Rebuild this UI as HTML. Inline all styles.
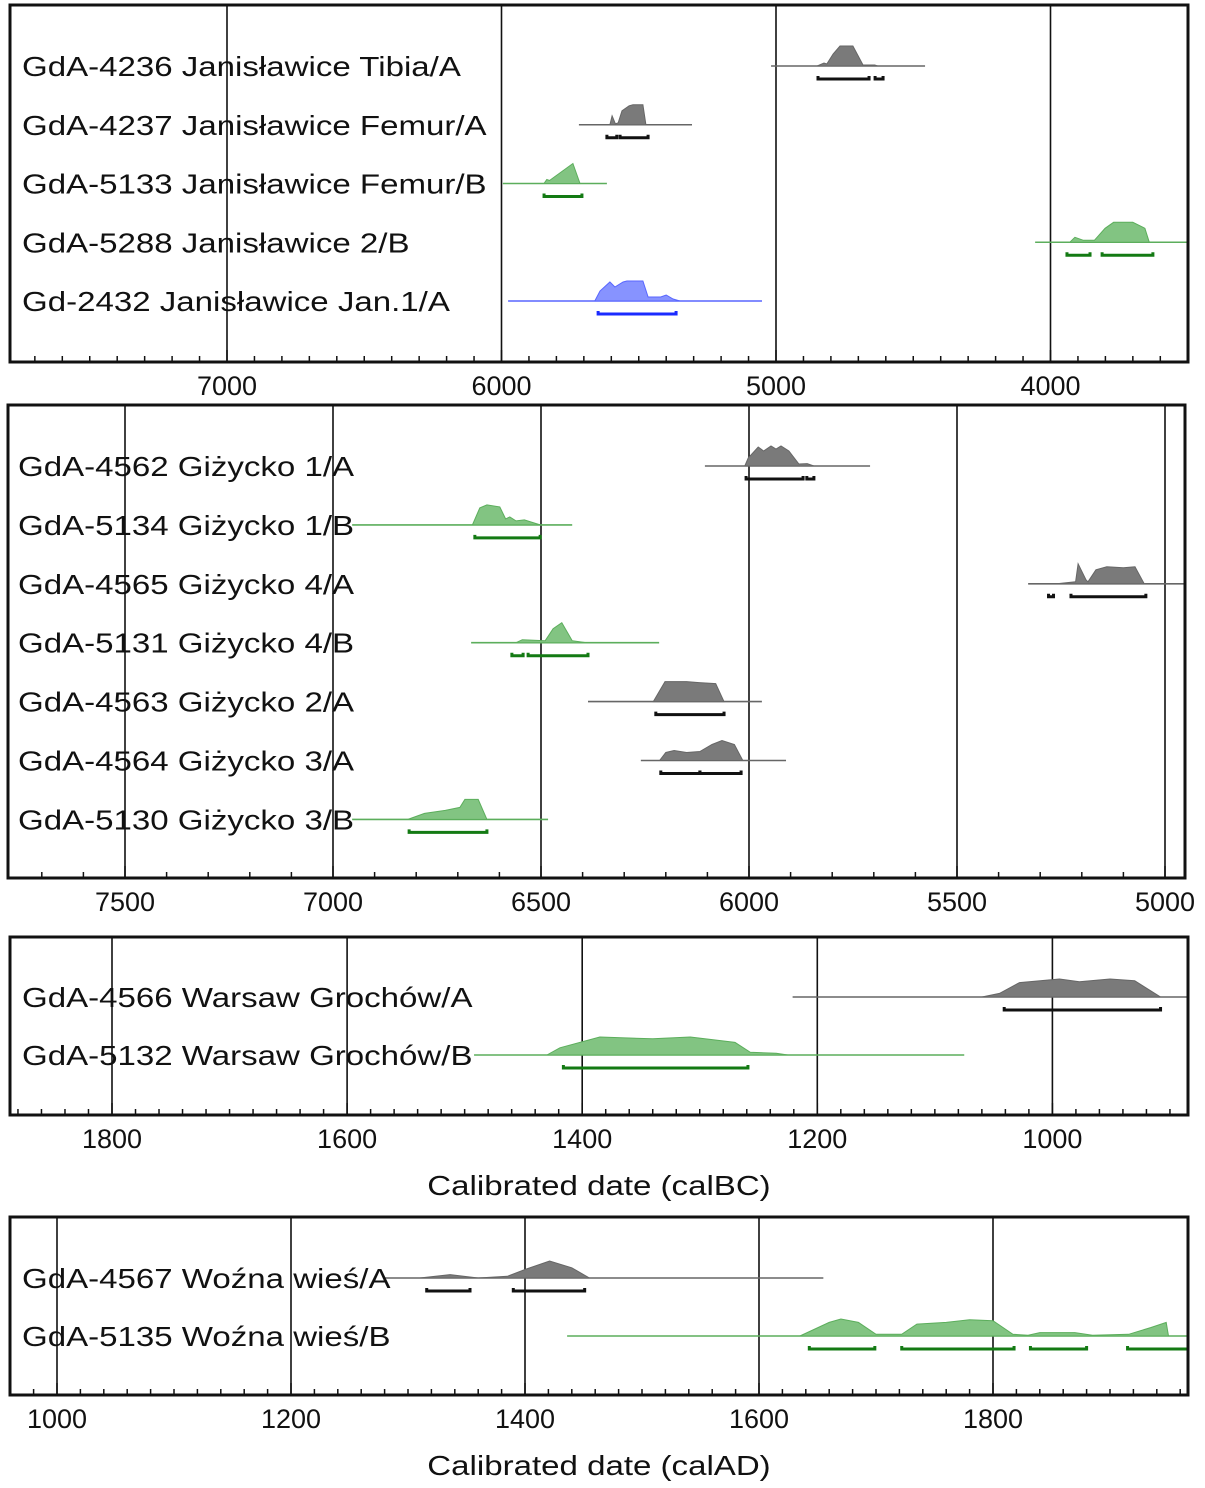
<!DOCTYPE html>
<html><head><meta charset="utf-8">
<style>
html,body{margin:0;padding:0;background:#fff;}
svg{display:block;font-family:"Liberation Sans",sans-serif;}
</style></head>
<body>
<svg id="chart" width="1205" height="1488" viewBox="0 0 1205 1488" xmlns="http://www.w3.org/2000/svg"></svg>
<script>
// ---- data ----
const p1Labels = ["GdA-4236 Janisławice Tibia/A","GdA-4237 Janisławice Femur/A","GdA-5133 Janisławice Femur/B","GdA-5288 Janisławice 2/B","Gd-2432 Janisławice Jan.1/A"];
const p1Colors = ["gray","gray","green","green","blue"];
const p1Lines = [[5018,4457],[5718,5306],[5995,5616],[4056,3450],[5976,5051]];
const p1Dens = [
 [[4850,0],[4825,0.15],[4815,0.1],[4792,0.6],[4767,1],[4720,1],[4683,0.05],[4640,0.05],[4630,0]],
 [[5605,0],[5597,0.45],[5585,0.05],[5575,0.1],[5561,0.7],[5535,0.95],[5521,1],[5485,1],[5474,0]],
 [[5845,0],[5835,0.2],[5825,0.15],[5740,1],[5714,0]],
 [[3930,0],[3911,0.25],[3880,0.1],[3840,0.1],[3801,0.7],[3770,1],[3700,1],[3656,0.7],[3640,0]],
 [[5660,0],[5641,0.5],[5605,0.95],[5587,0.7],[5557,0.95],[5543,1],[5485,1],[5466,0.2],[5420,0.2],[5400,0.3],[5375,0.1],[5350,0]]
];
const p1Hpd = [[[4847,4661],[4639,4610]],[[5616,5580],[5568,5466]],[[5845,5707]],[[3940,3856],[3812,3627]],[[5648,5364]]];

const p2Labels = ["GdA-4562 Giżycko 1/A","GdA-5134 Giżycko 1/B","GdA-4565 Giżycko 4/A","GdA-5131 Giżycko 4/B","GdA-4563 Giżycko 2/A","GdA-4564 Giżycko 3/A","GdA-5130 Giżycko 3/B"];
const p2Colors = ["gray","green","gray","green","gray","gray","green"];
const p2Lines = [[6106,5709],[6954,6425],[5329,4900],[6668,6216],[6387,5969],[6260,5911],[6954,6483]];
const p2Dens = [
 [[6010,0],[6002,0.4],[5978,0.95],[5965,0.75],[5947,1],[5935,0.85],[5923,1],[5904,0.75],[5880,0.1],[5860,0.12],[5844,0]],
 [[6665,0],[6647,0.85],[6630,1],[6599,0.9],[6585,0.3],[6575,0.4],[6560,0.2],[6540,0.25],[6502,0]],
 [[5260,0],[5215,0.1],[5209,1],[5190,0.2],[5185,0.1],[5166,0.7],[5140,0.85],[5100,0.8],[5072,0.85],[5050,0]],
 [[6560,0],[6545,0.15],[6490,0.1],[6471,0.7],[6450,1],[6425,0.1],[6390,0]],
 [[6230,0],[6202,1],[6150,1],[6120,0.95],[6080,0.9],[6060,0]],
 [[6215,0],[6200,0.4],[6180,0.5],[6150,0.4],[6118,0.45],[6089,0.8],[6065,1],[6035,0.8],[6015,0]],
 [[6820,0],[6780,0.3],[6730,0.45],[6695,0.6],[6683,1],[6651,1],[6630,0]]
];
const p2Hpd = [[[6007,5870],[5861,5844]],[[6659,6502]],[[5280,5268],[5226,5046]],[[6570,6543],[6531,6387]],[[6224,6060]],[[6212,6118],[6118,6019]],[[6817,6630]]];

const p3Labels = ["GdA-4566 Warsaw Grochów/A","GdA-5132 Warsaw Grochów/B"];
const p3Colors = ["gray","green"];
const p3Lines = [[1221,870],[1492,1075]];
const p3Dens = [
 [[1060,0],[1045,0.2],[1028,0.8],[994,1],[977,0.85],[951,1],[930,0.9],[908,0]],
 [[1430,0],[1419,0.4],[1385,1],[1340,0.9],[1308,1],[1270,0.7],[1257,0.15],[1235,0.1],[1225,0]]
];
const p3Hpd = [[[1041,908]],[[1416,1259]]];

const p4Labels = ["GdA-4567 Woźna wieś/A","GdA-5135 Woźna wieś/B"];
const p4Colors = ["gray","green"];
const p4Lines = [[1280,1655],[1436,1990]];
const p4Dens = [
 [[1310,0],[1336,0.2],[1360,0],[1385,0.1],[1400,0.5],[1421,1],[1440,0.6],[1455,0]],
 [[1635,0],[1660,0.8],[1670,1],[1685,0.8],[1700,0.1],[1722,0.1],[1735,0.7],[1760,0.8],[1780,0.95],[1800,0.9],[1817,0.1],[1830,0.05],[1840,0.2],[1870,0.2],[1885,0.05],[1916,0.1],[1935,0.5],[1948,0.8],[1950,0]]
];
const p4Hpd = [[[1316,1353],[1390,1451]],[[1643,1699],[1722,1818],[1832,1880],[1915,1975]]];

const p1Ticks = [7000,6000,5000,4000];
const p2Ticks = [7500,7000,6500,6000,5500,5000];
const p3Ticks = [1800,1600,1400,1200,1000];
const p4Ticks = [1000,1200,1400,1600,1800];

// ---- drawing ----
const NS = "http://www.w3.org/2000/svg";
const svg = document.getElementById("chart");
const STRETCH = 1.18;
function mk(tag, attrs, parent){const e=document.createElementNS(NS,tag);for(const k in attrs)e.setAttribute(k,attrs[k]);(parent||svg).appendChild(e);return e;}
function stretch(t){const w=t.getComputedTextLength();if(w>0){t.setAttribute("textLength",(w*STRETCH).toFixed(1));t.setAttribute("lengthAdjust","spacingAndGlyphs");}}
const COL = {
 gray:{fill:"#7a7a7a",line:"#666",bar:"#111"},
 green:{fill:"#82c482",line:"#5cae5c",bar:"#137a13"},
 blue:{fill:"#8793ff",line:"#5866ff",bar:"#1b2bff"}
};
let clipId=0;
function panel(cfg){
 const g=mk("g",{});
 
 
 const x = v => cfg.x0 + (v - cfg.v0) * cfg.k;
 const id="clip"+(clipId++);
 const cp=mk("clipPath",{id:id},g);
 mk("rect",{x:cfg.L,y:cfg.T,width:cfg.R-cfg.L,height:cfg.B-cfg.T},cp);
 const inner=mk("g",{"clip-path":"url(#"+id+")"},g);
 cfg.ticks.forEach(t=>{
  const gl=mk("line",{x1:x(t),x2:x(t),y1:cfg.T,y2:cfg.B,stroke:"#111","stroke-width":1.6},inner);
  
  
 });
 const lo=Math.min(cfg.vmin,cfg.vmax), hi=Math.max(cfg.vmin,cfg.vmax);
 for(let v=Math.ceil(lo/cfg.minor)*cfg.minor; v<=hi; v+=cfg.minor){
  const major = cfg.ticks.includes(v);
  mk("line",{x1:x(v),x2:x(v),y1:cfg.B-(major?12:6),y2:cfg.B,stroke:"#111","stroke-width":1.5},inner);
 }
 cfg.labels.forEach((lab,i)=>{
  const y=cfg.rowY0 + i*cfg.rowDy;
  const c=COL[cfg.colors[i]];
  const t=mk("text",{x:cfg.textX,y:y+10,"font-size":28,fill:"#111"},g);
  t.textContent=lab;
  
  
  stretch(t);
  const ln=cfg.lines[i];
  const bl=mk("line",{x1:x(ln[0]),x2:x(ln[1]),y1:y,y2:y,stroke:c.line,"stroke-width":1.6},inner);
  
  
  const pts=cfg.dens[i].map(p=>x(p[0]).toFixed(1)+","+(y-p[1]*cfg.h).toFixed(1)).join(" ");
  const pg=mk("polygon",{points:pts,fill:c.fill,stroke:c.line,"stroke-width":1},inner);
  
  
  cfg.hpd[i].forEach(r=>{
   const yb=y+13;
   const a=x(r[0]), b=x(r[1]);
   const hb=mk("path",{d:`M${a},${yb-3}V${yb}H${b}V${yb-3}`,fill:"none",stroke:c.bar,"stroke-width":3},inner);
   
   
  });
 });
 mk("rect",{x:cfg.L,y:cfg.T,width:cfg.R-cfg.L,height:cfg.B-cfg.T,fill:"none",stroke:"#111","stroke-width":3},g);
 cfg.ticks.forEach(t=>{
  const tl=mk("text",{x:x(t),y:cfg.B+33,"font-size":27,"text-anchor":"middle",fill:"#111"},g);
  tl.textContent=t;
  
  
 });
 if(cfg.title){
  const tt=mk("text",{x:599,y:cfg.B+80,"font-size":28,"text-anchor":"middle",fill:"#111"},g);
  tt.textContent=cfg.title;
  
  
  stretch(tt);
 }
}
panel({name:"janislawice-panel",L:10,R:1188,T:5,B:362,x0:227,v0:7000,k:-0.2745,vmin:7790,vmax:3490,minor:100,ticks:p1Ticks,
 labels:p1Labels,colors:p1Colors,lines:p1Lines,dens:p1Dens,hpd:p1Hpd,rowY0:66,rowDy:58.75,h:20,textX:22});
panel({name:"gizycko-panel",L:8,R:1185,T:405,B:878,x0:125,v0:7500,k:-0.416,vmin:7780,vmax:4950,minor:100,ticks:p2Ticks,
 labels:p2Labels,colors:p2Colors,lines:p2Lines,dens:p2Dens,hpd:p2Hpd,rowY0:466,rowDy:58.9,h:20,textX:18});
panel({name:"warsaw-panel",L:10,R:1188,T:937,B:1115,x0:112,v0:1800,k:-1.1755,vmin:1880,vmax:880,minor:20,ticks:p3Ticks,
 labels:p3Labels,colors:p3Colors,lines:p3Lines,dens:p3Dens,hpd:p3Hpd,rowY0:997,rowDy:58,h:18,textX:22,title:"Calibrated date (calBC)"});
panel({name:"wozna-wies-panel",L:10,R:1188,T:1217,B:1395,x0:57,v0:1000,k:1.17,vmin:960,vmax:1960,minor:20,ticks:p4Ticks,
 labels:p4Labels,colors:p4Colors,lines:p4Lines,dens:p4Dens,hpd:p4Hpd,rowY0:1278,rowDy:58,h:17,textX:22,title:"Calibrated date (calAD)"});
</script>
</body></html>
